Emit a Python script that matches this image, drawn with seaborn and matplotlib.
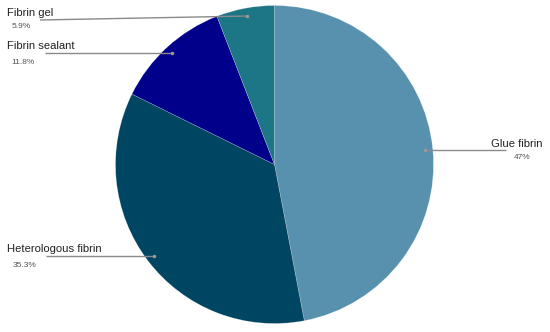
import matplotlib
matplotlib.use("Agg")
import matplotlib.pyplot as plt
import seaborn as sns
import numpy as np

sns.set_theme(style="white")
plt.rcParams['font.family'] = ['Liberation Sans', 'DejaVu Sans']

categories = ["Glue fibrin", "Heterologous fibrin", "Fibrin sealant", "Fibrin gel"]
values = [47.0, 35.3, 11.8, 5.9]
pct_labels = ["47%", "35.3%", "11.8%", "5.9%"]
colors = ["#5891ad", "#004561", "#00008b", "#1c7685"]

W, H = 550, 332
fig = plt.figure(figsize=(5.5, 3.32), dpi=100)
ax = fig.add_axes([0, 0, 1, 1])

cx, cy, R = 274.5, H - 164.5, 159
wedges, _ = ax.pie(values, colors=colors, startangle=90, counterclock=False,
                   center=(cx, cy), radius=R, frame=True,
                   wedgeprops=dict(linewidth=0.4, edgecolor="#ffffff55"))
ax.set_xlim(0, W)
ax.set_ylim(0, H)
ax.set_aspect("equal")
ax.axis("off")

# label layout: (line end x, line end y px or None = same as dot, label x, label baseline px, pct x, pct baseline px, ha)
layout = {
    "Glue fibrin": (506, None, 491, 147, 522, 159, "left", "center"),
    "Heterologous fibrin": (46, None, 7, 252, 13, 267, "left", "left"),
    "Fibrin sealant": (45, None, 7, 49, 11, 64, "left", "left"),
    "Fibrin gel": (40, 20, 7, 16.5, 12, 28, "left", "left"),
}
for w, cat, pct in zip(wedges, categories, pct_labels):
    ang = np.deg2rad((w.theta1 + w.theta2) / 2)
    dx, dy = cx + 0.95 * R * np.cos(ang), cy + 0.95 * R * np.sin(ang)
    lx, ly, tx, ty, px, py, ha, pha = layout[cat]
    ly_d = dy if ly is None else H - ly
    ax.plot([dx, lx], [dy, ly_d], color="#8a8a8a", lw=1.0, solid_capstyle="butt")
    ax.plot([dx], [dy], "o", color="#9a9a9a", ms=2.5, mec="none")
    ax.text(tx, H - ty, cat, fontsize=8.1, color="#222222", ha=ha, va="baseline")
    ax.text(px, H - py, pct, fontsize=6, color="#555555", ha=pha, va="baseline")

fig.savefig("out.png", dpi=100)
